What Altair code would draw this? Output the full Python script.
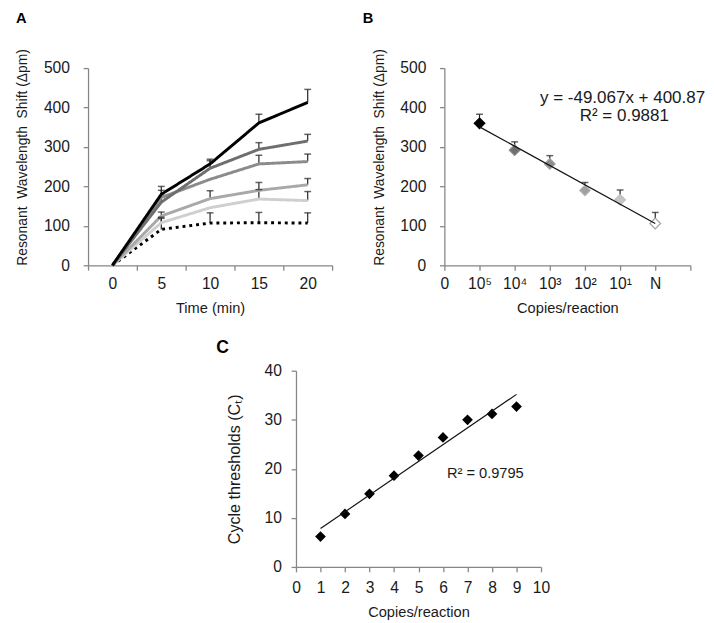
import altair as alt
import pandas as pd

FONT = "Liberation Sans"
AXIS_GRAY = "#868686"
TEXT = "#1a1a1a"

# ---------------- Panel A data ----------------
a_time = [0, 5, 10, 15, 20]
a_series = ["1e5", "1e4", "1e3", "1e2", "1e1", "N"]
a_1e5 = [0, 180, 257, 361, 413]
a_1e4 = [0, 160, 246, 294, 315]
a_1e3 = [0, 172, 218, 257, 263]
a_1e2 = [0, 125, 169, 190, 204]
a_1e1 = [0, 108, 146, 168, 164]
a_neg = [0, 91, 107, 108, 107]
e_1e5 = [0, 20, 12, 22, 33]
e_1e4 = [0, 30, 19, 17, 17]
e_1e3 = [0, 0, 0, 22, 19]
e_1e2 = [0, 10, 20, 20, 16]
e_1e1 = [0, 14, 0, 24, 23]
e_neg = [0, 28, 26, 26, 26]
a_colors = ["#000000", "#6e6e6e", "#8b8b8b", "#a8a8a8", "#cfcfcf", "#000000"]
a_dashes = [[1, 0], [1, 0], [1, 0], [1, 0], [1, 0], [3, 4]]
a_xticks = [-2.5, 2.5, 7.5, 12.5, 17.5, 22.5]
a_yticks = [0, 100, 200, 300, 400, 500]

# ---------------- Panel B data ----------------
b_x = [1, 2, 3, 4, 5, 6]
b_y = [360, 292, 257, 190, 166, 106]
b_err = [23, 21, 21, 20, 25, 28]
b_fill = ["#000000", "#6f6f6f", "#8c8c8c", "#a0a0a0", "#c6c6c6", "#ffffff"]
b_stroke = ["#000000", "#8a8a8a", "#a0a0a0", "#b4b4b4", "#bdbdbd", "#a0a0a0"]
b_ticklabels = ["0", "10⁵", "10⁴", "10³", "10²", "10¹", "N", ""]
b_eq_text = ["y = -49.067x + 400.87", "R² = 0.9881"]
b_eq_x = [5.07, 5.12]
b_eq_y = [424, 377]

# ---------------- Panel C data ----------------
c_x = [1, 2, 3, 4, 5, 6, 7, 8, 9]
c_y = [6.2, 10.8, 14.9, 18.6, 22.7, 26.4, 30.0, 31.2, 32.7]
c_r2_text = ["R² = 0.9795"]
c_r2_x = [6.16]
c_r2_y = [19.2]

# ---------------- Panel A ----------------
a_vals = [a_1e5, a_1e4, a_1e3, a_1e2, a_1e1, a_neg]
a_errs = [e_1e5, e_1e4, e_1e3, e_1e2, e_1e1, e_neg]
rows = []
# draw the darkest series last so it sits on top
for s, vals, errs in reversed(list(zip(a_series, a_vals, a_errs))):
    for t, v, e in zip(a_time, vals, errs):
        rows.append({"time": t, "value": v, "err": e, "series": s})
dfA = pd.DataFrame(rows)

A_YTITLE = "Resonant\u00a0 Wavelength\u00a0 Shift (Δpm)"


def xA():
    return alt.X("time:Q",
                 scale=alt.Scale(domain=[-2.5, 22.5], nice=False, zero=False),
                 axis=alt.Axis(values=a_xticks, title="Time (min)",
                               labelExpr="datum.value > 20 ? '' : format(datum.value + 2.5, 'd')",
                               labelOffset=25, labelFlush=False, labelOverlap=False,
                               labelPadding=6, titlePadding=9))


def yA(field):
    return alt.Y(f"{field}:Q",
                 scale=alt.Scale(domain=[0, 500], nice=False, zero=False),
                 axis=alt.Axis(values=a_yticks, title=A_YTITLE, titleFontSize=14.2,
                               labelPadding=14, titlePadding=14, titleY=91))


colorA = alt.Color("series:N", scale=alt.Scale(domain=a_series, range=a_colors), legend=None)
dashA = alt.StrokeDash("series:N", scale=alt.Scale(domain=a_series, range=a_dashes), legend=None)

linesA = alt.Chart(dfA).mark_line(strokeWidth=3).encode(
    x=xA(), y=yA("value"), color=colorA, strokeDash=dashA)

errBase = alt.Chart(dfA).transform_filter("datum.err > 0").transform_calculate(
    top="datum.value + datum.err")
errRuleA = errBase.mark_rule(color="#222222", strokeWidth=1.2).encode(
    x=xA(), y=yA("value"), y2="top:Q")
errCapA = errBase.mark_tick(color="#222222", thickness=1.5, size=7, orient="horizontal").encode(
    x=xA(), y=yA("top"))

panelA = alt.layer(errRuleA, linesA, errCapA).properties(
    width=250, height=202,
    title=alt.TitleParams("A", anchor="start", offset=23))

# ---------------- Panel B ----------------
dfB = pd.DataFrame({"x": b_x, "y": b_y, "err": b_err, "fill": b_fill, "stroke": b_stroke})
dfBtext = pd.DataFrame({"x": b_eq_x, "y": b_eq_y, "text": b_eq_text})
labels_js = "[" + ",".join("'" + l + "'" for l in b_ticklabels) + "]"


def xB(field="x"):
    return alt.X(f"{field}:Q",
                 scale=alt.Scale(domain=[0, 7], nice=False, zero=False),
                 axis=alt.Axis(values=list(range(8)), title="Copies/reaction",
                               labelExpr=labels_js + "[datum.value]",
                               labelFlush=False, labelOverlap=False,
                               labelPadding=6, titlePadding=9))


def yB(field):
    return alt.Y(f"{field}:Q",
                 scale=alt.Scale(domain=[0, 500], nice=False, zero=False),
                 axis=alt.Axis(values=a_yticks, title=A_YTITLE, titleFontSize=14.2,
                               labelPadding=14, titlePadding=14, titleY=91))


errBaseB = alt.Chart(dfB).transform_calculate(top="datum.y + datum.err")
errRuleB = errBaseB.mark_rule(color="#222222", strokeWidth=1.2).encode(
    x=xB(), y=yB("y"), y2="top:Q")
errCapB = errBaseB.mark_tick(color="#222222", thickness=1.5, size=7, orient="horizontal").encode(
    x=xB(), y=yB("top"))
pointsB = alt.Chart(dfB).mark_point(shape="diamond", filled=True, size=120, strokeWidth=1.2, opacity=1).encode(
    x=xB(), y=yB("y"),
    fill=alt.Fill("fill:N", scale=None),
    stroke=alt.Stroke("stroke:N", scale=None))
trendB = alt.Chart(dfB).transform_regression("x", "y").mark_line(
    color="#111111", strokeWidth=1.2).encode(x=xB(), y=yB("y"))
textB = alt.Chart(dfBtext).mark_text(fontSize=17.4, font=FONT, align="center", baseline="middle",
                                     color=TEXT).encode(x=xB(), y=yB("y"), text="text:N")

panelB = alt.layer(errRuleB, errCapB, pointsB, trendB, textB).properties(
    width=252, height=202,
    title=alt.TitleParams("B", anchor="start", offset=23, dx=-10))

# ---------------- Panel C ----------------
dfC = pd.DataFrame({"x": c_x, "y": c_y})
dfCtext = pd.DataFrame({"x": c_r2_x, "y": c_r2_y, "text": c_r2_text})


def xC():
    return alt.X("x:Q", scale=alt.Scale(domain=[0, 10], nice=False, zero=False),
                 axis=alt.Axis(values=list(range(11)), title="Copies/reaction",
                               labelFlush=False, labelOverlap=False,
                               labelPadding=8, titlePadding=10))


def yC():
    return alt.Y("y:Q", scale=alt.Scale(domain=[0, 40], nice=False, zero=False),
                 axis=alt.Axis(values=[0, 10, 20, 30, 40], title="Cycle thresholds (C\u209C)",
                               titleFontSize=16.5, labelPadding=10, titlePadding=22))


pointsC = alt.Chart(dfC).mark_point(shape="diamond", filled=True, size=120, color="#000000", opacity=1).encode(
    x=xC(), y=yC())
trendC = alt.Chart(dfC).transform_regression("x", "y").mark_line(
    color="#111111", strokeWidth=1.2).encode(x=xC(), y=yC())
textC = alt.Chart(dfCtext).mark_text(fontSize=15, font=FONT, align="left", baseline="middle",
                                     color=TEXT).encode(x=xC(), y=yC(), text="text:N")

panelC = alt.layer(pointsC, trendC, textC).properties(
    width=251, height=201,
    title=alt.TitleParams("C", anchor="start", offset=6, dx=-11, fontSize=18))

spacer = alt.Chart(pd.DataFrame({"v": [0]})).mark_point(opacity=0).encode(
    x=alt.X("v:Q", axis=None), y=alt.Y("v:Q", axis=None)).properties(width=191, height=201)

top = alt.hconcat(panelA, panelB, spacing=115, bounds="flush")
bottom = alt.hconcat(spacer, panelC, spacing=22, bounds="flush")
# nested flush groups count as zero height, so the spacing spans the top row's plot height too
chart = alt.vconcat(top, bottom, spacing=310, bounds="flush").properties(
    padding={"left": 8, "top": -4, "right": 0, "bottom": 2}
).configure_axis(
    domainColor=AXIS_GRAY, tickColor=AXIS_GRAY, labelColor=TEXT, titleColor=TEXT,
    labelFont=FONT, titleFont=FONT, labelFontSize=16, titleFontSize=15,
    titleFontWeight="normal", tickSize=5, grid=False, domainWidth=1.3, tickWidth=1.3
).configure_view(stroke=None).configure_title(
    font=FONT, fontSize=15, fontWeight="bold", anchor="start", color="#000000"
)

chart.save("out.html", embed_options={"renderer": "svg", "actions": False})
